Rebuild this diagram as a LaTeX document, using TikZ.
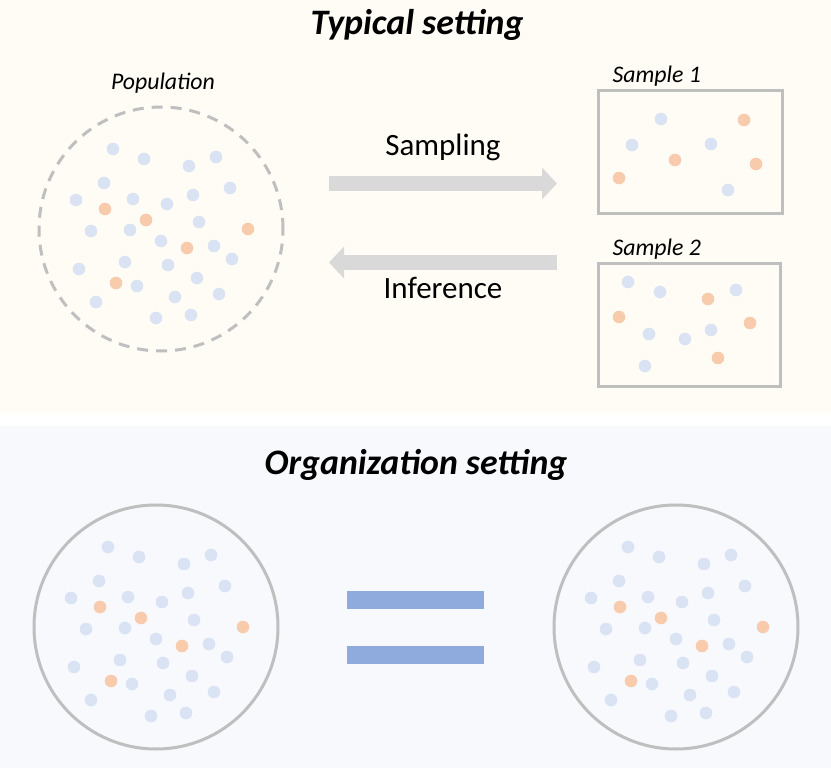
\documentclass[tikz,border=0pt]{standalone}
\usepackage{fontspec}
\setmainfont{Carlito}
\usetikzlibrary{arrows.meta}

\definecolor{cream}{HTML}{FFFCF5}
\definecolor{lavender}{HTML}{F7F9FD}
\definecolor{outline}{HTML}{BFBFBF}
\definecolor{bluedot}{HTML}{DAE3F3}
\definecolor{orangedot}{HTML}{F8CBAD}
\definecolor{arrowgray}{HTML}{D9D9D9}
\definecolor{equalblue}{HTML}{8FAADC}

\tikzset{
  bigarrow/.style={arrowgray, line width=15pt, -{Triangle[width=31pt,length=15pt]}},
  setlabel/.style={font=\fontsize{23.8}{24}\selectfont\itshape, anchor=base},
  arrowtext/.style={font=\fontsize{31}{31}\selectfont, anchor=base},
  heading/.style={font=\fontsize{35.8}{36}\selectfont\bfseries\itshape, anchor=base},
  crowd/.style={circle, draw=outline, line width=3pt, minimum size=244pt, inner sep=0pt},
  samplebox/.style={draw=outline, line width=3pt, inner sep=0pt},
}

% the same cloud of dots around a centre
\newcommand{\dotcloud}[1]{
  \foreach \dx/\dy in {-48/-80,-17/-70,28/-63,55/-72,-57/-46,69/-41,-85/-29,-28/-30,
      6/-25,32/-34,-70/2,-31/1,38/-7,0/12,53/17,71/30,-82/40,-36/33,7/36,36/49,
      -24/57,-65/73,14/68,58/65,-5/89,30/86}
    \fill[bluedot] (#1) ++(\dx,\dy) circle (6.3pt);
  \foreach \dx/\dy in {-56/-20,-15/-9,26/19,87/0,-45/54}
    \fill[orangedot] (#1) ++(\dx,\dy) circle (6.3pt);
}

\begin{document}
\begin{tikzpicture}[x=1pt,y=-1pt]

\useasboundingbox (0,0) rectangle (831,768);
\fill[cream] (0,0) rectangle (831,413);
\fill[lavender] (0,426) rectangle (831,768);

\node[heading] (typical) at (417,35) {Typical setting};
\node[heading] (organization) at (416,474) {Organization setting};

% typical setting
\node[crowd, dashed, dash pattern=on 11pt off 8pt] (population) at (161,229) {};
\node[setlabel] (population label) at (163,90) {Population};
\dotcloud{population}

\node[samplebox, minimum width=184pt, minimum height=122pt] (sample one) at (690,152) {};
\node[samplebox, minimum width=182pt, minimum height=123pt] (sample two) at (689,324.5) {};
\node[setlabel, anchor=base west] (sample one label) at (609,83) {Sample 1};
\node[setlabel, anchor=base west] (sample two label) at (609,255) {Sample 2};

\foreach \x/\y in {661/119,632/145,711/144,728/190}
  \fill[bluedot] (\x,\y) circle (6.3pt);
\foreach \x/\y in {744/120,675/160,756/164,619/178}
  \fill[orangedot] (\x,\y) circle (6.3pt);
\foreach \x/\y in {628/282,660/292,736/290,649/334,685/339,711/330,645/366}
  \fill[bluedot] (\x,\y) circle (6.3pt);
\foreach \x/\y in {708/299,619/317,750/323,718/358}
  \fill[orangedot] (\x,\y) circle (6.3pt);

\coordinate (sampling left) at (329,183.5);
\coordinate (sampling right) at (557,183.5);
\coordinate (inference left) at (329,262.5);
\coordinate (inference right) at (557,262.5);

\draw[bigarrow] (sampling left) to (sampling right);
\draw[bigarrow] (inference right) to (inference left);
\node[arrowtext] (sampling) at (443,155) {Sampling};
\node[arrowtext] (inference) at (443,298) {Inference};

% organization setting
\node[crowd] (organization left) at (156,627) {};
\node[crowd] (organization right) at (676,627) {};
\dotcloud{organization left}
\dotcloud{organization right}

\fill[equalblue] (347,591) rectangle (484,609);
\fill[equalblue] (347,646) rectangle (484,664);

\end{tikzpicture}
\end{document}
